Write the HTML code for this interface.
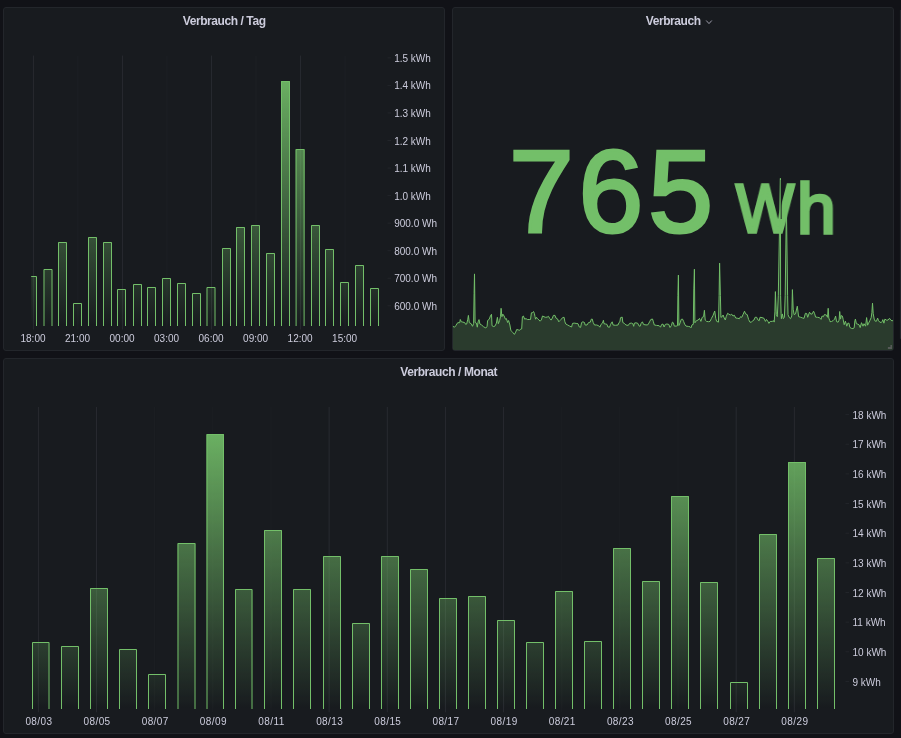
<!DOCTYPE html>
<html lang="de"><head><meta charset="utf-8"><title>Verbrauch</title>
<style>
html,body{margin:0;padding:0;background:#111217;}
body{width:901px;height:738px;overflow:hidden;position:relative;font-family:"Liberation Sans",sans-serif;}
.panel{position:absolute;background:#181b1f;border:1px solid #23262b;border-radius:3px;box-sizing:border-box;}
.title{position:absolute;left:0;right:0;text-align:center;font-weight:bold;font-size:12px;letter-spacing:-0.42px;color:#ccccdc;line-height:14px;white-space:nowrap;}
svg{position:absolute;left:0;top:0;will-change:transform;}
.title,.big{will-change:transform;}
.ax text{font-family:"Liberation Sans",sans-serif;font-size:10px;fill:#ccccdc;}
.grid path{stroke:rgba(204,204,220,0.09);stroke-width:1;fill:none;}
.tick path{stroke:rgba(204,204,220,0.06);stroke-width:1;fill:none;}
.big{position:absolute;color:#73bf69;white-space:nowrap;line-height:1;-webkit-text-stroke:1.3px #73bf69;}
</style></head><body>
<div class="panel" style="left:2.5px;top:6.8px;width:442.3px;height:344px;"></div>
<div class="panel" style="left:452.2px;top:6.8px;width:441.6px;height:344px;overflow:hidden;"></div>
<div class="panel" style="left:2.5px;top:358.1px;width:891.4px;height:376.3px;"></div>
<div class="title" style="left:2.5px;width:442.3px;top:13.5px;">Verbrauch / Tag</div>
<div class="title" style="left:452.2px;width:441.6px;top:13.5px;"><span style="position:relative;left:0.4px">Verbrauch</span></div>
<div class="title" style="left:2.5px;width:891.4px;top:364.7px;">Verbrauch / Monat</div>
<div class="big" id="v765" style="left:508.9px;top:134px;font-size:116.5px;letter-spacing:4.8px;-webkit-text-stroke:3.2px #73bf69;">765</div>
<div id="unit"><span class="big" id="vw" style="left:735.9px;top:174.4px;font-size:68px;transform-origin:0 0;transform:scaleX(0.905);-webkit-text-stroke:3.3px #73bf69;display:block;">W</span><span class="big" id="vh" style="left:796.5px;top:172.7px;font-size:71px;transform-origin:0 0;transform:scaleX(0.98);-webkit-text-stroke:3.3px #73bf69;display:block;">h</span></div>
<svg width="901" height="738" viewBox="0 0 901 738">
<defs>
<linearGradient id="g1" gradientUnits="userSpaceOnUse" x1="0" y1="56" x2="0" y2="326"><stop offset="0" stop-color="#73bf69" stop-opacity="1"/><stop offset="1" stop-color="#73bf69" stop-opacity="0"/></linearGradient>
<linearGradient id="g3" gradientUnits="userSpaceOnUse" x1="0" y1="407" x2="0" y2="709"><stop offset="0" stop-color="#73bf69" stop-opacity="1"/><stop offset="1" stop-color="#73bf69" stop-opacity="0"/></linearGradient>
<clipPath id="cp1"><rect x="31.2" y="50" width="360" height="276"/></clipPath>
<clipPath id="cp2"><rect x="452.6" y="7" width="440.7" height="343.1" rx="2"/></clipPath>
</defs>
<!-- chart 1 -->
<g class="grid"><path d="M33.40 55.6V329.5" opacity="1"/><path d="M77.92 55.6V329.5" opacity="0.35"/><path d="M122.44 55.6V329.5" opacity="1"/><path d="M166.96 55.6V329.5" opacity="0.35"/><path d="M211.48 55.6V329.5" opacity="1"/><path d="M256.00 55.6V329.5" opacity="0.35"/><path d="M300.52 55.6V329.5" opacity="1"/><path d="M345.04 55.6V329.5" opacity="0.35"/></g>
<g class="tick"><path d="M387.5 57.85H391"/><path d="M387.5 85.40H391"/><path d="M387.5 112.95H391"/><path d="M387.5 140.50H391"/><path d="M387.5 168.05H391"/><path d="M387.5 195.60H391"/><path d="M387.5 223.15H391"/><path d="M387.5 250.70H391"/><path d="M387.5 278.25H391"/><path d="M387.5 305.80H391"/></g>
<g clip-path="url(#cp1)">
<rect x="28.00" y="276.00" width="9.00" height="50.00" fill="url(#g1)"/>
<path d="M28.50 326.00V276.50H36.50V326.00" fill="none" stroke="#73bf69" stroke-width="1"/>
<rect x="43.50" y="269.00" width="9.00" height="57.00" fill="url(#g1)"/>
<path d="M44.00 326.00V269.50H52.00V326.00" fill="none" stroke="#73bf69" stroke-width="1"/>
<rect x="58.00" y="242.00" width="9.00" height="84.00" fill="url(#g1)"/>
<path d="M58.50 326.00V242.50H66.50V326.00" fill="none" stroke="#73bf69" stroke-width="1"/>
<rect x="73.00" y="303.00" width="9.00" height="23.00" fill="url(#g1)"/>
<path d="M73.50 326.00V303.50H81.50V326.00" fill="none" stroke="#73bf69" stroke-width="1"/>
<rect x="88.00" y="237.00" width="9.00" height="89.00" fill="url(#g1)"/>
<path d="M88.50 326.00V237.50H96.50V326.00" fill="none" stroke="#73bf69" stroke-width="1"/>
<rect x="103.00" y="242.00" width="9.00" height="84.00" fill="url(#g1)"/>
<path d="M103.50 326.00V242.50H111.50V326.00" fill="none" stroke="#73bf69" stroke-width="1"/>
<rect x="117.00" y="289.00" width="9.00" height="37.00" fill="url(#g1)"/>
<path d="M117.50 326.00V289.50H125.50V326.00" fill="none" stroke="#73bf69" stroke-width="1"/>
<rect x="133.00" y="284.00" width="9.00" height="42.00" fill="url(#g1)"/>
<path d="M133.50 326.00V284.50H141.50V326.00" fill="none" stroke="#73bf69" stroke-width="1"/>
<rect x="147.00" y="287.00" width="9.00" height="39.00" fill="url(#g1)"/>
<path d="M147.50 326.00V287.50H155.50V326.00" fill="none" stroke="#73bf69" stroke-width="1"/>
<rect x="162.00" y="278.00" width="9.00" height="48.00" fill="url(#g1)"/>
<path d="M162.50 326.00V278.50H170.50V326.00" fill="none" stroke="#73bf69" stroke-width="1"/>
<rect x="177.00" y="283.00" width="9.00" height="43.00" fill="url(#g1)"/>
<path d="M177.50 326.00V283.50H185.50V326.00" fill="none" stroke="#73bf69" stroke-width="1"/>
<rect x="192.00" y="293.00" width="9.00" height="33.00" fill="url(#g1)"/>
<path d="M192.50 326.00V293.50H200.50V326.00" fill="none" stroke="#73bf69" stroke-width="1"/>
<rect x="206.50" y="287.00" width="9.00" height="39.00" fill="url(#g1)"/>
<path d="M207.00 326.00V287.50H215.00V326.00" fill="none" stroke="#73bf69" stroke-width="1"/>
<rect x="222.00" y="248.00" width="9.00" height="78.00" fill="url(#g1)"/>
<path d="M222.50 326.00V248.50H230.50V326.00" fill="none" stroke="#73bf69" stroke-width="1"/>
<rect x="236.00" y="227.00" width="9.00" height="99.00" fill="url(#g1)"/>
<path d="M236.50 326.00V227.50H244.50V326.00" fill="none" stroke="#73bf69" stroke-width="1"/>
<rect x="251.00" y="225.00" width="9.00" height="101.00" fill="url(#g1)"/>
<path d="M251.50 326.00V225.50H259.50V326.00" fill="none" stroke="#73bf69" stroke-width="1"/>
<rect x="266.00" y="253.00" width="9.00" height="73.00" fill="url(#g1)"/>
<path d="M266.50 326.00V253.50H274.50V326.00" fill="none" stroke="#73bf69" stroke-width="1"/>
<rect x="281.00" y="81.00" width="9.00" height="245.00" fill="url(#g1)"/>
<path d="M281.50 326.00V81.50H289.50V326.00" fill="none" stroke="#73bf69" stroke-width="1"/>
<rect x="295.60" y="149.00" width="9.00" height="177.00" fill="url(#g1)"/>
<path d="M296.10 326.00V149.50H304.10V326.00" fill="none" stroke="#73bf69" stroke-width="1"/>
<rect x="311.00" y="225.00" width="9.00" height="101.00" fill="url(#g1)"/>
<path d="M311.50 326.00V225.50H319.50V326.00" fill="none" stroke="#73bf69" stroke-width="1"/>
<rect x="325.00" y="249.00" width="9.00" height="77.00" fill="url(#g1)"/>
<path d="M325.50 326.00V249.50H333.50V326.00" fill="none" stroke="#73bf69" stroke-width="1"/>
<rect x="340.00" y="282.00" width="9.00" height="44.00" fill="url(#g1)"/>
<path d="M340.50 326.00V282.50H348.50V326.00" fill="none" stroke="#73bf69" stroke-width="1"/>
<rect x="355.00" y="265.00" width="9.00" height="61.00" fill="url(#g1)"/>
<path d="M355.50 326.00V265.50H363.50V326.00" fill="none" stroke="#73bf69" stroke-width="1"/>
<rect x="370.00" y="288.00" width="9.00" height="38.00" fill="url(#g1)"/>
<path d="M370.50 326.00V288.50H378.50V326.00" fill="none" stroke="#73bf69" stroke-width="1"/>
</g>
<g class="ax"><text x="33.00" y="341.8" text-anchor="middle">18:00</text><text x="77.52" y="341.8" text-anchor="middle">21:00</text><text x="122.04" y="341.8" text-anchor="middle">00:00</text><text x="166.56" y="341.8" text-anchor="middle">03:00</text><text x="211.08" y="341.8" text-anchor="middle">06:00</text><text x="255.60" y="341.8" text-anchor="middle">09:00</text><text x="300.12" y="341.8" text-anchor="middle">12:00</text><text x="344.64" y="341.8" text-anchor="middle">15:00</text><text x="394.2" y="61.85">1.5 kWh</text><text x="394.2" y="89.40">1.4 kWh</text><text x="394.2" y="116.95">1.3 kWh</text><text x="394.2" y="144.50">1.2 kWh</text><text x="394.2" y="172.05">1.1 kWh</text><text x="394.2" y="199.60">1.0 kWh</text><text x="394.2" y="227.15">900.0 Wh</text><text x="394.2" y="254.70">800.0 Wh</text><text x="394.2" y="282.25">700.0 Wh</text><text x="394.2" y="309.80">600.0 Wh</text></g>
<!-- stat sparkline -->
<g clip-path="url(#cp2)">
<path d="M452.8 326.3 L454.5 327.2 L455.8 325.7 L457.7 322.7 L459.7 322.7 L460.3 319.5 L461.3 321.8 L462.9 322.1 L464.8 322.7 L465.7 324.4 L466.7 324.0 L467.8 319.2 L468.4 315.4 L469.3 322.7 L471.2 323.7 L472.5 326.3 L473.6 323.7 L474.1 293.5 L474.5 273.9 L475.1 322.5 L476.4 323.1 L477.3 327.2 L478.1 321.8 L479.0 319.6 L479.9 324.0 L481.6 325.0 L483.5 326.7 L485.8 328.0 L487.1 326.3 L487.6 320.5 L489.3 319.2 L490.6 315.4 L491.5 314.3 L492.0 325.7 L493.8 326.6 L495.1 325.9 L496.4 323.1 L497.4 317.3 L498.3 323.7 L499.6 320.5 L500.5 316.7 L501.1 308.3 L501.9 316.7 L502.8 314.1 L504.1 316.0 L505.4 319.2 L506.4 318.6 L507.6 322.5 L508.6 320.5 L509.9 325.0 L510.8 330.2 L511.8 331.5 L513.1 332.8 L514.4 334.4 L515.7 332.1 L516.7 329.5 L518.3 329.9 L519.5 330.4 L520.8 328.9 L521.7 328.9 L522.4 316.7 L523.4 316.0 L524.7 319.2 L526.0 318.6 L527.3 319.5 L529.2 319.5 L530.5 319.5 L531.4 312.8 L532.4 312.8 L533.5 311.5 L534.4 313.4 L535.0 316.7 L535.6 319.2 L536.5 317.3 L537.6 318.6 L538.9 319.9 L540.1 321.2 L541.4 319.9 L542.5 316.0 L544.0 316.7 L545.3 317.3 L547.2 317.1 L548.5 316.3 L549.8 318.6 L551.1 320.1 L552.4 318.0 L553.4 315.4 L555.0 315.4 L555.9 318.0 L557.5 318.9 L558.8 321.8 L560.0 320.5 L561.3 319.2 L562.6 317.6 L564.1 317.3 L564.9 321.8 L565.8 324.0 L567.7 325.0 L569.7 326.1 L571.6 327.0 L572.5 323.4 L574.2 323.1 L576.1 323.4 L578.0 323.7 L579.3 327.0 L580.6 327.4 L581.6 322.5 L582.9 321.8 L584.5 322.5 L585.1 325.0 L587.0 325.0 L588.6 322.5 L590.3 322.2 L591.3 319.2 L592.2 319.0 L593.2 322.5 L594.5 325.0 L596.7 325.0 L598.6 325.7 L599.9 327.2 L601.0 324.4 L602.5 323.1 L603.4 320.3 L604.0 323.7 L605.7 324.0 L607.0 324.4 L607.9 327.0 L609.6 327.2 L610.5 324.4 L612.2 321.8 L613.1 325.0 L615.4 325.3 L618.0 325.0 L619.0 322.5 L619.9 321.8 L620.5 317.7 L622.2 317.1 L622.8 322.5 L624.4 323.4 L625.9 325.0 L628.3 325.4 L629.5 323.4 L631.5 323.1 L632.8 323.7 L633.7 326.3 L634.4 323.1 L636.0 322.8 L637.9 323.4 L638.8 325.7 L640.1 326.3 L641.1 323.4 L642.4 321.8 L643.5 324.4 L645.0 324.8 L647.6 325.0 L648.9 323.1 L649.9 321.2 L650.8 319.5 L652.5 319.0 L653.4 321.8 L654.3 325.0 L656.6 325.4 L659.2 325.7 L660.5 327.2 L661.7 324.4 L663.0 324.1 L664.1 327.0 L665.3 324.4 L666.9 324.0 L668.8 324.4 L670.0 327.5 L671.4 325.5 L672.4 322.1 L673.4 322.8 L674.3 326.1 L676.1 326.1 L677.5 325.7 L677.9 295.7 L678.4 275.1 L678.9 325.5 L680.2 322.8 L681.2 319.4 L682.5 319.1 L683.6 321.4 L684.6 324.1 L686.0 326.1 L688.3 326.4 L690.1 326.8 L691.0 327.8 L692.0 324.8 L693.3 324.4 L693.8 288.9 L694.4 269.2 L694.9 322.8 L696.4 320.7 L698.2 320.0 L699.5 318.4 L700.9 321.4 L702.2 317.3 L703.6 316.7 L704.4 310.3 L705.2 320.0 L706.6 321.4 L708.6 321.7 L710.0 321.4 L711.3 318.7 L713.1 315.3 L714.7 311.0 L715.8 318.7 L716.7 321.4 L718.5 322.1 L719.1 295.7 L719.6 263.1 L720.4 295.7 L720.9 317.3 L722.2 316.7 L723.1 315.0 L724.2 318.0 L725.3 320.0 L726.2 316.7 L727.6 313.3 L728.9 314.2 L730.3 315.0 L731.7 314.2 L733.0 316.0 L734.4 315.3 L735.7 318.0 L737.8 318.3 L739.4 318.7 L740.5 316.7 L741.8 317.3 L743.2 314.2 L744.5 311.2 L745.6 313.9 L747.2 314.6 L748.6 319.4 L749.9 322.1 L751.3 322.3 L752.7 320.7 L754.0 320.0 L755.1 317.3 L756.7 317.3 L757.8 319.8 L759.2 320.7 L760.0 317.3 L762.0 317.6 L764.1 318.4 L765.4 321.4 L766.5 319.4 L767.9 321.4 L768.9 323.4 L770.2 321.4 L772.2 321.4 L773.6 320.7 L774.2 322.1 L774.9 311.9 L775.4 291.6 L776.3 314.6 L777.3 316.7 L778.3 295.7 L780.4 178.3 L780.6 295.7 L781.1 313.3 L781.4 318.7 L782.4 313.9 L783.3 318.7 L784.4 317.3 L785.2 295.7 L786.4 205.0 L787.6 295.7 L788.0 314.6 L789.1 317.3 L790.5 318.7 L791.8 316.0 L792.4 289.6 L793.2 309.2 L794.1 314.6 L795.5 313.9 L797.3 306.2 L798.6 316.7 L800.7 317.3 L802.7 318.0 L804.0 318.4 L805.4 313.3 L806.7 313.5 L807.7 317.3 L809.5 312.2 L810.8 314.2 L812.2 313.9 L813.5 311.2 L814.5 313.3 L815.6 317.1 L817.6 317.3 L819.6 317.7 L821.0 319.4 L822.1 316.0 L823.4 316.7 L824.4 314.6 L826.4 315.0 L827.5 317.3 L828.2 308.3 L828.8 318.0 L829.8 320.7 L830.0 321.7 L831.5 321.5 L833.0 320.7 L834.6 319.1 L835.6 316.1 L836.6 321.7 L838.1 322.2 L839.1 320.1 L839.7 311.5 L840.5 319.1 L841.2 315.6 L842.4 316.1 L843.2 319.6 L844.2 324.7 L845.4 321.2 L846.8 326.2 L847.8 323.2 L849.0 323.2 L849.8 327.3 L851.3 328.3 L852.9 328.6 L854.2 327.8 L854.9 320.7 L855.4 319.1 L856.4 323.7 L857.9 324.2 L859.0 324.7 L860.2 327.6 L861.5 322.7 L863.0 326.2 L864.0 323.7 L865.6 326.2 L866.6 317.6 L867.6 325.2 L868.6 323.2 L869.8 320.7 L871.2 317.6 L871.9 312.5 L872.5 303.2 L873.2 313.5 L874.2 319.1 L875.2 321.2 L876.5 321.2 L877.6 318.1 L878.6 320.7 L879.8 322.2 L881.3 322.5 L882.3 321.2 L882.8 319.6 L883.9 323.2 L884.9 319.1 L886.4 320.1 L887.9 320.1 L889.5 318.3 L890.8 320.1 L892.0 320.9 L893.2 320.4 L893.2 350.2 L452.8 350.2 Z" fill="#73bf69" fill-opacity="0.2"/>
<path d="M452.8 326.3 L454.5 327.2 L455.8 325.7 L457.7 322.7 L459.7 322.7 L460.3 319.5 L461.3 321.8 L462.9 322.1 L464.8 322.7 L465.7 324.4 L466.7 324.0 L467.8 319.2 L468.4 315.4 L469.3 322.7 L471.2 323.7 L472.5 326.3 L473.6 323.7 L474.1 293.5 L474.5 273.9 L475.1 322.5 L476.4 323.1 L477.3 327.2 L478.1 321.8 L479.0 319.6 L479.9 324.0 L481.6 325.0 L483.5 326.7 L485.8 328.0 L487.1 326.3 L487.6 320.5 L489.3 319.2 L490.6 315.4 L491.5 314.3 L492.0 325.7 L493.8 326.6 L495.1 325.9 L496.4 323.1 L497.4 317.3 L498.3 323.7 L499.6 320.5 L500.5 316.7 L501.1 308.3 L501.9 316.7 L502.8 314.1 L504.1 316.0 L505.4 319.2 L506.4 318.6 L507.6 322.5 L508.6 320.5 L509.9 325.0 L510.8 330.2 L511.8 331.5 L513.1 332.8 L514.4 334.4 L515.7 332.1 L516.7 329.5 L518.3 329.9 L519.5 330.4 L520.8 328.9 L521.7 328.9 L522.4 316.7 L523.4 316.0 L524.7 319.2 L526.0 318.6 L527.3 319.5 L529.2 319.5 L530.5 319.5 L531.4 312.8 L532.4 312.8 L533.5 311.5 L534.4 313.4 L535.0 316.7 L535.6 319.2 L536.5 317.3 L537.6 318.6 L538.9 319.9 L540.1 321.2 L541.4 319.9 L542.5 316.0 L544.0 316.7 L545.3 317.3 L547.2 317.1 L548.5 316.3 L549.8 318.6 L551.1 320.1 L552.4 318.0 L553.4 315.4 L555.0 315.4 L555.9 318.0 L557.5 318.9 L558.8 321.8 L560.0 320.5 L561.3 319.2 L562.6 317.6 L564.1 317.3 L564.9 321.8 L565.8 324.0 L567.7 325.0 L569.7 326.1 L571.6 327.0 L572.5 323.4 L574.2 323.1 L576.1 323.4 L578.0 323.7 L579.3 327.0 L580.6 327.4 L581.6 322.5 L582.9 321.8 L584.5 322.5 L585.1 325.0 L587.0 325.0 L588.6 322.5 L590.3 322.2 L591.3 319.2 L592.2 319.0 L593.2 322.5 L594.5 325.0 L596.7 325.0 L598.6 325.7 L599.9 327.2 L601.0 324.4 L602.5 323.1 L603.4 320.3 L604.0 323.7 L605.7 324.0 L607.0 324.4 L607.9 327.0 L609.6 327.2 L610.5 324.4 L612.2 321.8 L613.1 325.0 L615.4 325.3 L618.0 325.0 L619.0 322.5 L619.9 321.8 L620.5 317.7 L622.2 317.1 L622.8 322.5 L624.4 323.4 L625.9 325.0 L628.3 325.4 L629.5 323.4 L631.5 323.1 L632.8 323.7 L633.7 326.3 L634.4 323.1 L636.0 322.8 L637.9 323.4 L638.8 325.7 L640.1 326.3 L641.1 323.4 L642.4 321.8 L643.5 324.4 L645.0 324.8 L647.6 325.0 L648.9 323.1 L649.9 321.2 L650.8 319.5 L652.5 319.0 L653.4 321.8 L654.3 325.0 L656.6 325.4 L659.2 325.7 L660.5 327.2 L661.7 324.4 L663.0 324.1 L664.1 327.0 L665.3 324.4 L666.9 324.0 L668.8 324.4 L670.0 327.5 L671.4 325.5 L672.4 322.1 L673.4 322.8 L674.3 326.1 L676.1 326.1 L677.5 325.7 L677.9 295.7 L678.4 275.1 L678.9 325.5 L680.2 322.8 L681.2 319.4 L682.5 319.1 L683.6 321.4 L684.6 324.1 L686.0 326.1 L688.3 326.4 L690.1 326.8 L691.0 327.8 L692.0 324.8 L693.3 324.4 L693.8 288.9 L694.4 269.2 L694.9 322.8 L696.4 320.7 L698.2 320.0 L699.5 318.4 L700.9 321.4 L702.2 317.3 L703.6 316.7 L704.4 310.3 L705.2 320.0 L706.6 321.4 L708.6 321.7 L710.0 321.4 L711.3 318.7 L713.1 315.3 L714.7 311.0 L715.8 318.7 L716.7 321.4 L718.5 322.1 L719.1 295.7 L719.6 263.1 L720.4 295.7 L720.9 317.3 L722.2 316.7 L723.1 315.0 L724.2 318.0 L725.3 320.0 L726.2 316.7 L727.6 313.3 L728.9 314.2 L730.3 315.0 L731.7 314.2 L733.0 316.0 L734.4 315.3 L735.7 318.0 L737.8 318.3 L739.4 318.7 L740.5 316.7 L741.8 317.3 L743.2 314.2 L744.5 311.2 L745.6 313.9 L747.2 314.6 L748.6 319.4 L749.9 322.1 L751.3 322.3 L752.7 320.7 L754.0 320.0 L755.1 317.3 L756.7 317.3 L757.8 319.8 L759.2 320.7 L760.0 317.3 L762.0 317.6 L764.1 318.4 L765.4 321.4 L766.5 319.4 L767.9 321.4 L768.9 323.4 L770.2 321.4 L772.2 321.4 L773.6 320.7 L774.2 322.1 L774.9 311.9 L775.4 291.6 L776.3 314.6 L777.3 316.7 L778.3 295.7 L780.4 178.3 L780.6 295.7 L781.1 313.3 L781.4 318.7 L782.4 313.9 L783.3 318.7 L784.4 317.3 L785.2 295.7 L786.4 205.0 L787.6 295.7 L788.0 314.6 L789.1 317.3 L790.5 318.7 L791.8 316.0 L792.4 289.6 L793.2 309.2 L794.1 314.6 L795.5 313.9 L797.3 306.2 L798.6 316.7 L800.7 317.3 L802.7 318.0 L804.0 318.4 L805.4 313.3 L806.7 313.5 L807.7 317.3 L809.5 312.2 L810.8 314.2 L812.2 313.9 L813.5 311.2 L814.5 313.3 L815.6 317.1 L817.6 317.3 L819.6 317.7 L821.0 319.4 L822.1 316.0 L823.4 316.7 L824.4 314.6 L826.4 315.0 L827.5 317.3 L828.2 308.3 L828.8 318.0 L829.8 320.7 L830.0 321.7 L831.5 321.5 L833.0 320.7 L834.6 319.1 L835.6 316.1 L836.6 321.7 L838.1 322.2 L839.1 320.1 L839.7 311.5 L840.5 319.1 L841.2 315.6 L842.4 316.1 L843.2 319.6 L844.2 324.7 L845.4 321.2 L846.8 326.2 L847.8 323.2 L849.0 323.2 L849.8 327.3 L851.3 328.3 L852.9 328.6 L854.2 327.8 L854.9 320.7 L855.4 319.1 L856.4 323.7 L857.9 324.2 L859.0 324.7 L860.2 327.6 L861.5 322.7 L863.0 326.2 L864.0 323.7 L865.6 326.2 L866.6 317.6 L867.6 325.2 L868.6 323.2 L869.8 320.7 L871.2 317.6 L871.9 312.5 L872.5 303.2 L873.2 313.5 L874.2 319.1 L875.2 321.2 L876.5 321.2 L877.6 318.1 L878.6 320.7 L879.8 322.2 L881.3 322.5 L882.3 321.2 L882.8 319.6 L883.9 323.2 L884.9 319.1 L886.4 320.1 L887.9 320.1 L889.5 318.3 L890.8 320.1 L892.0 320.9 L893.2 320.4" fill="none" stroke="#73bf69" stroke-width="1" stroke-linejoin="round"/>
</g>
<path d="M706.2 20.5 L709 23.6 L711.8 20.5" fill="none" stroke="#9d9daa" stroke-width="1"/>
<path d="M781.2 180V219" stroke="#181b1f" stroke-width="0.9" fill="none"/>
<path d="M887.9 347H890.4V344.9H892V348.9H887.9z" fill="#565a58"/>
<!-- chart 3 -->
<g class="grid"><path d="M38.40 407V712.3" opacity="1"/><path d="M96.55 407V712.3" opacity="1"/><path d="M154.70 407V712.3" opacity="0.25"/><path d="M212.85 407V712.3" opacity="0.25"/><path d="M271.00 407V712.3" opacity="0.25"/><path d="M329.15 407V712.3" opacity="1"/><path d="M387.30 407V712.3" opacity="1"/><path d="M445.45 407V712.3" opacity="1"/><path d="M503.60 407V712.3" opacity="1"/><path d="M561.75 407V712.3" opacity="0.25"/><path d="M619.90 407V712.3" opacity="0.25"/><path d="M678.05 407V712.3" opacity="0.25"/><path d="M736.20 407V712.3" opacity="1"/><path d="M794.35 407V712.3" opacity="1"/></g>
<g class="tick"><path d="M845.5 414.60H849"/><path d="M845.5 444.25H849"/><path d="M845.5 473.90H849"/><path d="M845.5 503.55H849"/><path d="M845.5 533.20H849"/><path d="M845.5 562.85H849"/><path d="M845.5 592.50H849"/><path d="M845.5 622.15H849"/><path d="M845.5 651.80H849"/><path d="M845.5 681.45H849"/></g>
<rect x="32.00" y="642.00" width="17.50" height="67.00" fill="url(#g3)"/>
<path d="M32.50 709.00V642.50H49.00V709.00" fill="none" stroke="#73bf69" stroke-width="1"/>
<rect x="61.00" y="646.00" width="18.00" height="63.00" fill="url(#g3)"/>
<path d="M61.50 709.00V646.50H78.50V709.00" fill="none" stroke="#73bf69" stroke-width="1"/>
<rect x="90.00" y="588.00" width="18.00" height="121.00" fill="url(#g3)"/>
<path d="M90.50 709.00V588.50H107.50V709.00" fill="none" stroke="#73bf69" stroke-width="1"/>
<rect x="119.00" y="649.00" width="18.00" height="60.00" fill="url(#g3)"/>
<path d="M119.50 709.00V649.50H136.50V709.00" fill="none" stroke="#73bf69" stroke-width="1"/>
<rect x="148.00" y="674.00" width="18.00" height="35.00" fill="url(#g3)"/>
<path d="M148.50 709.00V674.50H165.50V709.00" fill="none" stroke="#73bf69" stroke-width="1"/>
<rect x="177.50" y="543.00" width="18.00" height="166.00" fill="url(#g3)"/>
<path d="M178.00 709.00V543.50H195.00V709.00" fill="none" stroke="#73bf69" stroke-width="1"/>
<rect x="206.50" y="434.00" width="17.50" height="275.00" fill="url(#g3)"/>
<path d="M207.00 709.00V434.50H223.50V709.00" fill="none" stroke="#73bf69" stroke-width="1"/>
<rect x="235.00" y="589.00" width="17.50" height="120.00" fill="url(#g3)"/>
<path d="M235.50 709.00V589.50H252.00V709.00" fill="none" stroke="#73bf69" stroke-width="1"/>
<rect x="264.00" y="530.00" width="18.00" height="179.00" fill="url(#g3)"/>
<path d="M264.50 709.00V530.50H281.50V709.00" fill="none" stroke="#73bf69" stroke-width="1"/>
<rect x="293.00" y="589.00" width="18.00" height="120.00" fill="url(#g3)"/>
<path d="M293.50 709.00V589.50H310.50V709.00" fill="none" stroke="#73bf69" stroke-width="1"/>
<rect x="323.00" y="556.00" width="18.00" height="153.00" fill="url(#g3)"/>
<path d="M323.50 709.00V556.50H340.50V709.00" fill="none" stroke="#73bf69" stroke-width="1"/>
<rect x="352.00" y="623.00" width="18.00" height="86.00" fill="url(#g3)"/>
<path d="M352.50 709.00V623.50H369.50V709.00" fill="none" stroke="#73bf69" stroke-width="1"/>
<rect x="381.00" y="556.00" width="18.00" height="153.00" fill="url(#g3)"/>
<path d="M381.50 709.00V556.50H398.50V709.00" fill="none" stroke="#73bf69" stroke-width="1"/>
<rect x="410.00" y="569.00" width="18.00" height="140.00" fill="url(#g3)"/>
<path d="M410.50 709.00V569.50H427.50V709.00" fill="none" stroke="#73bf69" stroke-width="1"/>
<rect x="439.00" y="598.00" width="18.00" height="111.00" fill="url(#g3)"/>
<path d="M439.50 709.00V598.50H456.50V709.00" fill="none" stroke="#73bf69" stroke-width="1"/>
<rect x="468.00" y="596.00" width="18.00" height="113.00" fill="url(#g3)"/>
<path d="M468.50 709.00V596.50H485.50V709.00" fill="none" stroke="#73bf69" stroke-width="1"/>
<rect x="497.00" y="620.00" width="18.00" height="89.00" fill="url(#g3)"/>
<path d="M497.50 709.00V620.50H514.50V709.00" fill="none" stroke="#73bf69" stroke-width="1"/>
<rect x="526.00" y="642.00" width="18.00" height="67.00" fill="url(#g3)"/>
<path d="M526.50 709.00V642.50H543.50V709.00" fill="none" stroke="#73bf69" stroke-width="1"/>
<rect x="555.00" y="591.00" width="18.00" height="118.00" fill="url(#g3)"/>
<path d="M555.50 709.00V591.50H572.50V709.00" fill="none" stroke="#73bf69" stroke-width="1"/>
<rect x="584.00" y="641.00" width="18.00" height="68.00" fill="url(#g3)"/>
<path d="M584.50 709.00V641.50H601.50V709.00" fill="none" stroke="#73bf69" stroke-width="1"/>
<rect x="613.00" y="548.00" width="18.00" height="161.00" fill="url(#g3)"/>
<path d="M613.50 709.00V548.50H630.50V709.00" fill="none" stroke="#73bf69" stroke-width="1"/>
<rect x="642.00" y="581.00" width="18.00" height="128.00" fill="url(#g3)"/>
<path d="M642.50 709.00V581.50H659.50V709.00" fill="none" stroke="#73bf69" stroke-width="1"/>
<rect x="671.00" y="496.00" width="18.00" height="213.00" fill="url(#g3)"/>
<path d="M671.50 709.00V496.50H688.50V709.00" fill="none" stroke="#73bf69" stroke-width="1"/>
<rect x="700.00" y="582.00" width="18.00" height="127.00" fill="url(#g3)"/>
<path d="M700.50 709.00V582.50H717.50V709.00" fill="none" stroke="#73bf69" stroke-width="1"/>
<rect x="730.00" y="682.00" width="18.00" height="27.00" fill="url(#g3)"/>
<path d="M730.50 709.00V682.50H747.50V709.00" fill="none" stroke="#73bf69" stroke-width="1"/>
<rect x="759.00" y="534.00" width="18.00" height="175.00" fill="url(#g3)"/>
<path d="M759.50 709.00V534.50H776.50V709.00" fill="none" stroke="#73bf69" stroke-width="1"/>
<rect x="788.00" y="462.00" width="18.00" height="247.00" fill="url(#g3)"/>
<path d="M788.50 709.00V462.50H805.50V709.00" fill="none" stroke="#73bf69" stroke-width="1"/>
<rect x="817.00" y="558.00" width="18.00" height="151.00" fill="url(#g3)"/>
<path d="M817.50 709.00V558.50H834.50V709.00" fill="none" stroke="#73bf69" stroke-width="1"/>
<g class="ax"><text x="38.90" y="725.0" text-anchor="middle" letter-spacing="0.4">08/03</text><text x="97.05" y="725.0" text-anchor="middle" letter-spacing="0.4">08/05</text><text x="155.20" y="725.0" text-anchor="middle" letter-spacing="0.4">08/07</text><text x="213.35" y="725.0" text-anchor="middle" letter-spacing="0.4">08/09</text><text x="271.50" y="725.0" text-anchor="middle" letter-spacing="0.4">08/11</text><text x="329.65" y="725.0" text-anchor="middle" letter-spacing="0.4">08/13</text><text x="387.80" y="725.0" text-anchor="middle" letter-spacing="0.4">08/15</text><text x="445.95" y="725.0" text-anchor="middle" letter-spacing="0.4">08/17</text><text x="504.10" y="725.0" text-anchor="middle" letter-spacing="0.4">08/19</text><text x="562.25" y="725.0" text-anchor="middle" letter-spacing="0.4">08/21</text><text x="620.40" y="725.0" text-anchor="middle" letter-spacing="0.4">08/23</text><text x="678.55" y="725.0" text-anchor="middle" letter-spacing="0.4">08/25</text><text x="736.70" y="725.0" text-anchor="middle" letter-spacing="0.4">08/27</text><text x="794.85" y="725.0" text-anchor="middle" letter-spacing="0.4">08/29</text><text x="852.5" y="418.70">18 kWh</text><text x="852.5" y="448.35">17 kWh</text><text x="852.5" y="478.00">16 kWh</text><text x="852.5" y="507.65">15 kWh</text><text x="852.5" y="537.30">14 kWh</text><text x="852.5" y="566.95">13 kWh</text><text x="852.5" y="596.60">12 kWh</text><text x="852.5" y="626.25">11 kWh</text><text x="852.5" y="655.90">10 kWh</text><text x="852.5" y="685.55">9 kWh</text></g>
<rect x="899.9" y="10" width="1.1" height="328.8" fill="#25282d"/>
</svg>
</body></html>
